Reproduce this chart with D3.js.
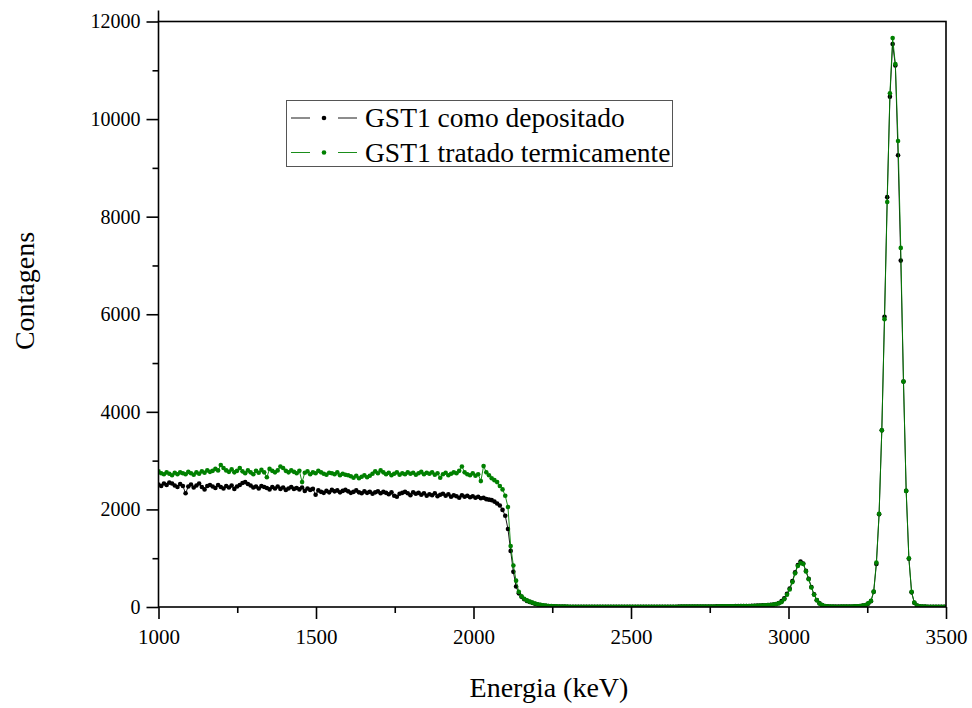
<!DOCTYPE html>
<html>
<head>
<meta charset="utf-8">
<script src="https://cdn.jsdelivr.net/npm/d3@7"></script>
<style>
  body { margin: 0; background: #fff; }
  text { font-family: "Liberation Serif", "Times New Roman", serif; fill: #000; }
</style>
</head>
<body>
<div id="plot"></div>
<script>
// channel calibration of the spectra (keV)
const energyStart = 1000;
const energyStep = 8.6;

// GST1 como depositado (counts per channel)
const countsDeposited = [
  2510, 2480, 2530, 2500, 2550, 2530, 2490, 2460, 2520, 2480,
  2330, 2470, 2510, 2450, 2490, 2530, 2460, 2410, 2480, 2500,
  2470, 2440, 2500, 2460, 2430, 2480, 2450, 2490, 2420, 2470,
  2500, 2540, 2560, 2520, 2490, 2450, 2470, 2430, 2480, 2460,
  2440, 2410, 2460, 2430, 2470, 2420, 2450, 2400, 2430, 2460,
  2420, 2440, 2410, 2450, 2380, 2430, 2400, 2420, 2300, 2390,
  2360, 2340, 2380, 2350, 2400, 2370, 2390, 2350, 2380, 2400,
  2370, 2340, 2360, 2390, 2350, 2330, 2370, 2340, 2360, 2320,
  2350, 2370, 2330, 2360, 2340, 2310, 2350, 2280, 2260, 2320,
  2340, 2360, 2330, 2290, 2350, 2320, 2340, 2300, 2330, 2280,
  2310, 2290, 2330, 2270, 2300, 2320, 2280, 2310, 2260, 2290,
  2270, 2240, 2290, 2260, 2280, 2250, 2270, 2240, 2260, 2230,
  2240, 2210, 2200, 2190, 2160, 2120, 2080, 1990, 1870, 1600,
  1150, 720, 420, 280, 210, 160, 125, 105, 85, 65,
  52, 40, 32, 25, 20, 16, 13, 11, 9, 8,
  7, 6, 6, 5, 5, 5, 4, 4, 4, 4,
  4, 3, 4, 3, 3, 4, 3, 3, 3, 4,
  3, 3, 4, 3, 3, 3, 4, 3, 4, 4,
  4, 4, 5, 4, 5, 5, 5, 6, 5, 6,
  6, 6, 7, 7, 7, 7, 8, 8, 8, 9,
  9, 9, 10, 10, 11, 11, 12, 12, 13, 14,
  14, 15, 16, 17, 18, 19, 20, 21, 22, 24,
  26, 28, 30, 33, 36, 40, 45, 52, 62, 80,
  120, 180, 270, 380, 530, 710, 860, 930, 890, 740,
  580, 410, 260, 140, 75, 40, 22, 14, 10, 8,
  7, 7, 7, 8, 8, 9, 10, 12, 15, 20,
  28, 40, 70, 120, 310, 880, 1900, 3620, 5950, 8400,
  10460, 11540, 11100, 9260, 7100, 4620, 2380, 990, 300, 85,
  30, 15, 10, 8, 6, 5, 5, 4, 4, 4,
  4
];

// GST1 tratado termicamente (counts per channel)
const countsAnnealed = [
  2780, 2740, 2720, 2760, 2730, 2700, 2750, 2720, 2760, 2740,
  2720, 2770, 2740, 2710, 2760, 2730, 2780, 2750, 2800, 2770,
  2790, 2830, 2800, 2910, 2850, 2800, 2770, 2820, 2760, 2790,
  2850, 2780, 2740, 2800, 2760, 2720, 2790, 2750, 2810, 2760,
  2660, 2830, 2790, 2760, 2800, 2880, 2850, 2790, 2760, 2800,
  2770, 2740, 2790, 2560, 2750, 2780, 2720, 2760, 2740, 2790,
  2760, 2730, 2710, 2750, 2740, 2720, 2760, 2700, 2730, 2710,
  2700, 2680, 2650, 2690, 2640, 2670, 2700, 2660, 2690, 2730,
  2780, 2740, 2800, 2760, 2720, 2750, 2700, 2730, 2760, 2710,
  2740, 2720, 2760, 2730, 2750, 2710, 2740, 2770, 2720, 2750,
  2730, 2760, 2710, 2740, 2650, 2720, 2750, 2700, 2730, 2760,
  2740, 2790, 2880, 2760, 2720, 2700, 2740, 2690, 2720, 2580,
  2890, 2760, 2700, 2640, 2600, 2560, 2480, 2410, 2280, 2050,
  1250, 850, 540, 310, 220, 170, 135, 110, 90, 72,
  55, 44, 35, 28, 22, 18, 14, 12, 10, 9,
  8, 7, 6, 6, 5, 5, 5, 4, 4, 4,
  4, 4, 3, 4, 3, 3, 4, 3, 3, 3,
  3, 4, 3, 3, 4, 3, 3, 4, 3, 4,
  4, 4, 4, 5, 4, 5, 5, 5, 5, 6,
  6, 6, 6, 7, 7, 7, 7, 8, 8, 8,
  9, 9, 9, 10, 10, 11, 11, 12, 12, 13,
  13, 14, 15, 15, 16, 17, 18, 19, 20, 22,
  24, 26, 28, 31, 34, 38, 42, 48, 58, 75,
  100, 160, 250, 360, 510, 690, 840, 900, 880, 730,
  570, 400, 250, 140, 70, 38, 20, 12, 9, 7,
  6, 6, 7, 7, 8, 9, 10, 12, 15, 20,
  28, 42, 75, 125, 315, 910, 1910, 3620, 5900, 8300,
  10530, 11660, 11130, 9550, 7360, 4620, 2380, 1000, 310, 90,
  30, 14, 9, 7, 6, 5, 5, 4, 4, 4,
  4
];

const seriesNames = ["GST1 como depositado", "GST1 tratado termicamente"];
const seriesColors = ["#000000", "#008000"];

const xTicks = [1000, 1500, 2000, 2500, 3000, 3500];
const xMinorTicks = [1250, 1750, 2250, 2750, 3250];
const yTicks = [0, 2000, 4000, 6000, 8000, 10000, 12000];
const yMinorTicks = [1000, 3000, 5000, 7000, 9000, 11000];

const width = 972;
const height = 708;
const margin = { top: 21.5, right: 26, bottom: 101, left: 158.5 };

const svg = d3.select("div#plot")
    .append("svg")
    .attr("width", width)
    .attr("height", height);

const xScale = d3.scaleLinear()
    .domain([1000, 3500])
    .range([margin.left, width - margin.right]);

const yScale = d3.scaleLinear()
    .domain([0, 12000])
    .range([height - margin.bottom, margin.top]);

const series = [countsDeposited, countsAnnealed].map((counts, s) => ({
    name: seriesNames[s],
    color: seriesColors[s],
    points: counts.map((v, i) => ({ e: energyStart + i * energyStep, v: v }))
}));

// clip so the data stays in the frame
svg.append("clipPath").attr("id", "clip")
    .append("rect")
    .attr("x", margin.left)
    .attr("y", margin.top)
    .attr("width", width - margin.left - margin.right)
    .attr("height", height - margin.top - margin.bottom);

const line = d3.line()
    .x(d => xScale(d.e))
    .y(d => yScale(d.v));

const plot = svg.append("g").attr("clip-path", "url(#clip)");

series.forEach(s => {
    plot.append("path")
        .datum(s.points)
        .attr("fill", "none")
        .attr("stroke", s.color)
        .attr("stroke-width", 0.9)
        .attr("d", line);

    plot.selectAll(null)
        .data(s.points)
        .enter().append("circle")
        .attr("cx", d => xScale(d.e))
        .attr("cy", d => yScale(d.v))
        .attr("r", 2.3)
        .attr("fill", s.color);
});

// axes
const bottom = height - margin.bottom;

function styleAxis(size) {
    return g => {
        g.select(".domain").remove();
        g.selectAll("line").attr("stroke", "#000").attr("stroke-width", 1.6);
        g.selectAll("text").style("font-size", size + "px").style("font-family", "Liberation Serif");
    };
}

svg.append("g")
    .attr("transform", `translate(0,${bottom})`)
    .call(d3.axisBottom(xScale).tickValues(xTicks).tickSize(12).tickPadding(10).tickSizeOuter(0).tickFormat(d3.format("d")))
    .call(styleAxis(21));

svg.append("g")
    .attr("transform", `translate(0,${bottom})`)
    .call(d3.axisBottom(xScale).tickValues(xMinorTicks).tickSize(6).tickFormat(""))
    .call(styleAxis(21));

svg.append("g")
    .attr("transform", `translate(${margin.left},0)`)
    .call(d3.axisLeft(yScale).tickValues(yTicks).tickSize(12).tickPadding(6).tickFormat(d3.format("d")))
    .call(styleAxis(20));

svg.append("g")
    .attr("transform", `translate(${margin.left},0)`)
    .call(d3.axisLeft(yScale).tickValues(yMinorTicks).tickSize(6).tickFormat(""))
    .call(styleAxis(20));

// frame (left line runs a little past the top, as in the original)
svg.append("rect")
    .attr("x", margin.left)
    .attr("y", margin.top)
    .attr("width", width - margin.left - margin.right)
    .attr("height", height - margin.top - margin.bottom)
    .attr("fill", "none")
    .attr("stroke", "#000")
    .attr("stroke-width", 1.6);

svg.append("line")
    .attr("x1", margin.left).attr("x2", margin.left)
    .attr("y1", margin.top - 11).attr("y2", margin.top)
    .attr("stroke", "#000").attr("stroke-width", 1.6);

// axis titles
svg.append("text")
    .attr("x", 549)
    .attr("y", 697)
    .attr("text-anchor", "middle")
    .style("font-size", "28px")
    .text("Energia (keV)");

svg.append("text")
    .attr("transform", "translate(34,291) rotate(-90)")
    .attr("text-anchor", "middle")
    .style("font-size", "28px")
    .text("Contagens");

// legend
const legend = svg.append("g");
legend.append("rect")
    .attr("x", 286.5)
    .attr("y", 100.5)
    .attr("width", 386)
    .attr("height", 66)
    .attr("fill", "#fff")
    .attr("stroke", "#555")
    .attr("stroke-width", 1);

series.forEach((s, i) => {
    const cy = 118 + i * 34.5;
    legend.append("line")
        .attr("x1", 291).attr("x2", 310)
        .attr("y1", cy).attr("y2", cy)
        .attr("stroke", s.color).attr("stroke-width", 0.9);
    legend.append("line")
        .attr("x1", 338).attr("x2", 357)
        .attr("y1", cy).attr("y2", cy)
        .attr("stroke", s.color).attr("stroke-width", 0.9);
    legend.append("circle")
        .attr("cx", 324).attr("cy", cy)
        .attr("r", 2.3)
        .attr("fill", s.color);
    legend.append("text")
        .attr("x", 365)
        .attr("y", cy + 9)
        .style("font-size", "27.5px")
        .text(s.name);
});
</script>
</body>
</html>
